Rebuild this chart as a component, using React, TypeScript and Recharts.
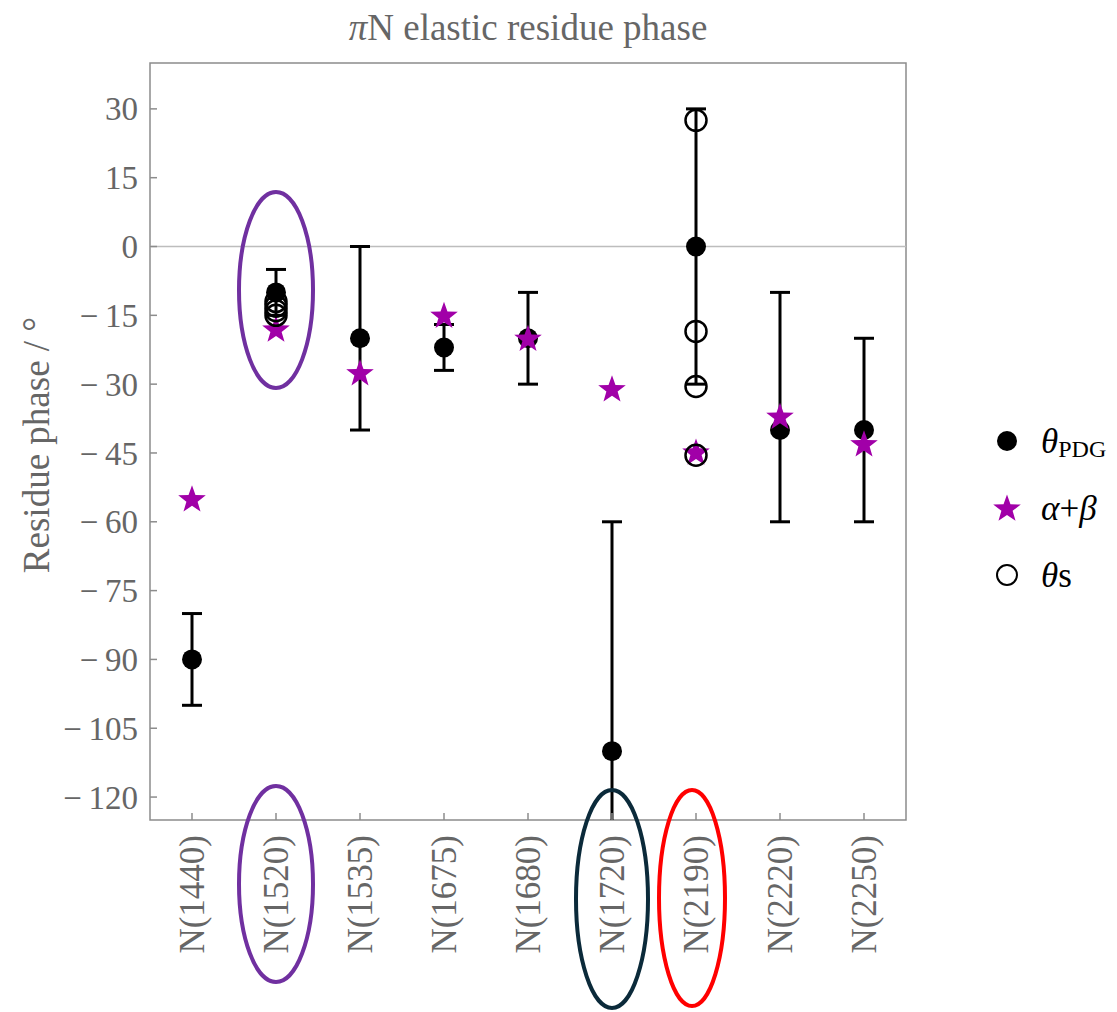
import React from "react";
import {
  ComposedChart,
  Scatter,
  ErrorBar,
  XAxis,
  YAxis,
  ReferenceLine,
  ReferenceArea,
  ReferenceDot,
} from "recharts";

// ----------------------------- Data -----------------------------
const categories = [
  "N(1440)",
  "N(1520)",
  "N(1535)",
  "N(1675)",
  "N(1680)",
  "N(1720)",
  "N(2190)",
  "N(2220)",
  "N(2250)",
];

// theta_PDG with asymmetric error bars (below / above)
const pdgPhase = [-90, -10, -20, -22, -20, -110, 0, -40, -40];
const pdgErrBelow = [10, 5, 20, 5, 10, 50, 30, 20, 20];
const pdgErrAbove = [10, 5, 20, 5, 10, 50, 30, 30, 20];

// alpha + beta
const alphaBeta = [-55, -18, -27.5, -15, -20, -31, -44.8, -37, -43];

// theta_s (several per resonance)
const thetaSCats = ["N(1520)", "N(1520)", "N(1520)", "N(1520)", "N(2190)", "N(2190)", "N(2190)", "N(2190)"];
const thetaSValues = [-12, -13, -14, -15, 27.5, -18.5, -30.5, -45.5];

const yTicks = [30, 15, 0, -15, -30, -45, -60, -75, -90, -105, -120];

// ----------------------------- Styles -----------------------------
const FONT = "'Liberation Serif', 'DejaVu Serif', serif";
const TEXT = "#666666";
const FRAME = "#8c8c8c";
const MAGENTA = "#a100a8";
const PURPLE = "#7030a0";

// label highlight ellipses (styling only)
const labelHighlights: Record<string, { color: string; rx: number; ry: number; dx: number; dy: number }> = {
  "N(1520)": { color: PURPLE, rx: 37, ry: 98, dx: 0, dy: 64 },
  "N(1720)": { color: "#0b2a3a", rx: 36, ry: 109, dx: 0, dy: 79 },
  "N(2190)": { color: "#ff0000", rx: 33, ry: 108, dx: -4, dy: 78 },
};

const W = 1101;
const H = 1004;
const M = { top: 55, right: 203, left: 0 };
const Y_AXIS_W = 142;
const X_AXIS_H = 192;
const plotRect = {
  x: M.left + Y_AXIS_W,
  y: M.top,
  w: W - M.left - Y_AXIS_W - M.right,
  h: H - M.top - X_AXIS_H,
};

// ----------------------------- Build rows -----------------------------
const pdgData = categories.map((c, i) => ({
  x: i,
  y: pdgPhase[i],
  err: [pdgErrBelow[i], pdgErrAbove[i]],
}));
const abData = categories.map((c, i) => ({ x: i, y: alphaBeta[i] }));
const thetaSData = thetaSCats.map((c, i) => ({ x: categories.indexOf(c), y: thetaSValues[i] }));

// ----------------------------- Shapes -----------------------------
function starPoints(cx: number, cy: number, R: number, r: number) {
  const pts: string[] = [];
  for (let k = 0; k < 10; k++) {
    const rad = k % 2 === 0 ? R : r;
    const a = -Math.PI / 2 + (k * Math.PI) / 5;
    pts.push(`${cx + rad * Math.cos(a)},${cy + rad * Math.sin(a)}`);
  }
  return pts.join(" ");
}

const StarShape = (props: any) => {
  const { cx, cy } = props;
  if (cx == null || cy == null) return <g />;
  return <polygon points={starPoints(cx, cy + 1, 14.5, 5.9)} fill={MAGENTA} />;
};

const DotShape = (props: any) => {
  const { cx, cy } = props;
  if (cx == null || cy == null) return <g />;
  return <circle cx={cx} cy={cy} r={10} fill="#000" />;
};

const OpenShape = (props: any) => {
  const { cx, cy } = props;
  if (cx == null || cy == null) return <g />;
  return <circle cx={cx} cy={cy} r={10.5} fill="none" stroke="#000" strokeWidth={2.5} />;
};

// ----------------------------- Ticks -----------------------------
const YTick = (props: any) => {
  const { x, y, payload } = props;
  const v = Number(payload.value);
  const label = v < 0 ? `\u2212\u2009${-v}` : `${v}`;
  return (
    <g>
      <line x1={x + 12} x2={x + 19} y1={y} y2={y} stroke={FRAME} strokeWidth={1.5} />
      <text x={x} y={y} dy="0.35em" textAnchor="end" fill={TEXT} fontSize={33} fontFamily={FONT}>
        {label}
      </text>
    </g>
  );
};

const XTick = (props: any) => {
  const { x, y, payload } = props;
  const name = categories[Number(payload.value)];
  const hl = labelHighlights[name];
  const ty = y + 15;
  return (
    <g>
      <line x1={x} x2={x} y1={y} y2={y - 7} stroke={FRAME} strokeWidth={1.5} />
      <text
        x={x}
        y={ty}
        dy="0.35em"
        textAnchor="end"
        transform={`rotate(-90 ${x} ${ty})`}
        fill={TEXT}
        fontSize={35}
        fontFamily={FONT}
      >
        {name}
      </text>
      {hl && (
        <ellipse
          cx={x + hl.dx}
          cy={y + hl.dy}
          rx={hl.rx}
          ry={hl.ry}
          fill="none"
          stroke={hl.color}
          strokeWidth={4}
        />
      )}
    </g>
  );
};

const DataEllipse = (props: any) => {
  const { cx, cy } = props;
  if (cx == null || cy == null) return <g />;
  return <ellipse cx={cx} cy={cy} rx={37} ry={98} fill="none" stroke={PURPLE} strokeWidth={4} />;
};

// ----------------------------- Chart -----------------------------
export default function App() {
  return (
    <div style={{ position: "relative", width: W, height: H, background: "#fff" }}>
      <style>{`.recharts-errorBar { clip-path: url(#plotClip); }`}</style>
      <svg width={0} height={0} style={{ position: "absolute" }}>
        <defs>
          <clipPath id="plotClip" clipPathUnits="userSpaceOnUse">
            <rect x={plotRect.x} y={plotRect.y} width={plotRect.w} height={plotRect.h} />
          </clipPath>
        </defs>
      </svg>
      <ComposedChart width={W} height={H} margin={{ ...M, bottom: 0 }}>
        <XAxis
          type="number"
          dataKey="x"
          domain={[-0.5, 8.5]}
          ticks={categories.map((_, i) => i)}
          interval={0}
          allowDataOverflow
          height={X_AXIS_H}
          tickSize={0}
          tickMargin={0}
          tickLine={false}
          axisLine={false}
          tick={<XTick />}
        />
        <YAxis
          type="number"
          dataKey="y"
          domain={[-125, 40]}
          ticks={yTicks}
          interval={0}
          allowDataOverflow
          width={Y_AXIS_W}
          tickSize={0}
          tickMargin={12}
          tickLine={false}
          axisLine={false}
          tick={<YTick />}
        />
        <ReferenceArea x1={-0.5} x2={8.5} y1={-125} y2={40} fill="none" stroke={FRAME} strokeWidth={1.5} fillOpacity={0} />
        <ReferenceLine y={0} stroke="#bdbdbd" strokeWidth={1.5} />
        <ReferenceDot x={1} y={-9.5} shape={<DataEllipse />} />

        <Scatter data={pdgData} shape={<DotShape />} isAnimationActive={false} legendType="none">
          <ErrorBar dataKey="err" direction="y" width={10} stroke="#000" strokeWidth={3} />
        </Scatter>
        <Scatter data={abData} shape={<StarShape />} isAnimationActive={false} legendType="none" />
        <Scatter data={thetaSData} shape={<OpenShape />} isAnimationActive={false} legendType="none" />
      </ComposedChart>

      {/* title, axis label and legend */}
      <svg
        width={W}
        height={H}
        style={{ position: "absolute", left: 0, top: 0, pointerEvents: "none" }}
        fontFamily={FONT}
      >
        <text x={520} y={32} textAnchor="middle" fill={TEXT} fontSize={37}>
          <tspan fontStyle="italic">π</tspan>N elastic residue phase
        </text>
        <text
          x={41}
          y={437}
          textAnchor="middle"
          transform="rotate(-90 41 437)"
          fill={TEXT}
          fontSize={37}
        >
          Residue phase / °
        </text>

        <circle cx={999} cy={433} r={10} fill="#000" />
        <text x={1033} y={445} fontSize={35} fill="#000">
          <tspan fontStyle="italic">θ</tspan>
          <tspan fontSize={24} dy={4}>PDG</tspan>
        </text>

        <polygon points={starPoints(999, 501, 14.5, 5.9)} fill={MAGENTA} />
        <text x={1033} y={512} fontSize={35} fill="#000">
          <tspan fontStyle="italic">α</tspan>+<tspan fontStyle="italic">β</tspan>
        </text>

        <circle cx={999} cy={567} r={10} fill="none" stroke="#000" strokeWidth={2} />
        <text x={1033} y={579} fontSize={35} fill="#000">
          <tspan fontStyle="italic">θ</tspan>s
        </text>
      </svg>
    </div>
  );
}
